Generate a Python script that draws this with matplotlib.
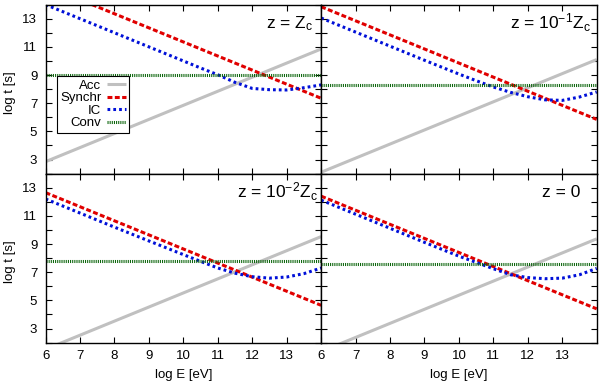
import numpy as np
import matplotlib
matplotlib.use('Agg')
import matplotlib.pyplot as plt

plt.rcParams['font.family'] = ['Liberation Sans', 'DejaVu Sans']
plt.rcParams['mathtext.fontset'] = 'custom'
plt.rcParams['mathtext.rm'] = 'Liberation Sans'
plt.rcParams['mathtext.default'] = 'regular'

# energy grid (log E [eV])
E = [6, 7, 8, 9, 10, 11, 12, 13, 14]
E_ic = [6, 7, 8, 9, 10, 10.5, 11, 11.5, 12, 12.5, 13, 13.5, 14]

# z = Zc
acc_a = [2.85, 3.85, 4.85, 5.85, 6.85, 7.85, 8.85, 9.85, 10.85]
syn_a = [15.35, 14.35, 13.35, 12.35, 11.35, 10.35, 9.35, 8.35, 7.35]
ic_a = [14.0, 13.0, 12.0, 11.0, 10.0, 9.5, 9.02, 8.48, 8.05, 7.96, 7.94, 8.1, 8.3]
conv_a = [9.02] * 9

# z = 10^-1 Zc
acc_b = [2.1, 3.1, 4.1, 5.1, 6.1, 7.1, 8.1, 9.1, 10.1]
syn_b = [13.85, 12.85, 11.85, 10.85, 9.85, 8.85, 7.85, 6.85, 5.85]
ic_b = [13.05, 12.05, 11.05, 10.05, 9.07, 8.6, 8.15, 7.77, 7.46, 7.24, 7.2, 7.44, 7.8]
conv_b = [8.27] * 9

# z = 10^-2 Zc
acc_c = [1.53, 2.53, 3.53, 4.53, 5.53, 6.53, 7.53, 8.53, 9.53]
syn_c = [12.65, 11.65, 10.65, 9.65, 8.65, 7.65, 6.65, 5.65, 4.65]
ic_c = [12.2, 11.2, 10.2, 9.22, 8.25, 7.77, 7.3, 6.93, 6.68, 6.58, 6.66, 6.9, 7.3]
conv_c = [7.77] * 9

# z = 0
acc_d = [1.37, 2.37, 3.37, 4.37, 5.37, 6.37, 7.37, 8.37, 9.37]
syn_d = [12.4, 11.4, 10.4, 9.4, 8.4, 7.4, 6.4, 5.4, 4.4]
ic_d = [12.12, 11.12, 10.12, 9.12, 8.14, 7.7, 7.25, 6.82, 6.62, 6.54, 6.58, 6.82, 7.27]
conv_d = [7.58] * 9

panels = [
    (acc_a, syn_a, ic_a, conv_a, r'z = Z$_{c}$', 0.80),
    (acc_b, syn_b, ic_b, conv_b, r'z = 10$^{-1}$Z$_{c}$', 0.685),
    (acc_c, syn_c, ic_c, conv_c, r'z = 10$^{-2}$Z$_{c}$', 0.695),
    (acc_d, syn_d, ic_d, conv_d, 'z = 0', 0.80),
]

fig, axes = plt.subplots(2, 2, figsize=(6, 3.85), dpi=100, sharex=True, sharey=True)
fig.subplots_adjust(left=0.076, right=0.9945, top=0.988, bottom=0.11, wspace=0, hspace=0)

lw = 2.2
for ax, (acc, syn, ic, conv, label, tx) in zip(axes.flat, panels):
    ax.plot(E, acc, color='#c0c0c0', lw=lw, solid_capstyle='butt', label='Acc')
    ax.plot(E, syn, color='#e00000', lw=lw, dashes=(1.6, 0.8), dash_capstyle='butt', label='Synchr')
    ax.plot(E_ic, ic, color='#0010d8', lw=lw, dashes=(0.9, 1.0), dash_capstyle='butt', label='IC')
    ax.plot(E, conv, color='#0b650b', lw=lw, dashes=(0.35, 0.35), dash_capstyle='butt', label='Conv')

    ax.text(tx, 0.86, label, transform=ax.transAxes, fontsize=12.5, ha='left', va='baseline')

    ax.set_xlim(6, 14)
    ax.set_ylim(2, 14)
    ax.set_xticks(range(6, 14))
    ax.set_yticks(range(3, 14, 2))
    ax.set_yticks(range(2, 15, 2), minor=True)
    ax.tick_params(which='both', direction='in', top=True, right=True,
                   length=4.5, width=0.8, labelsize=9.5)
    ax.tick_params(axis='y', pad=6)
    ax.tick_params(axis='x', pad=5)
    for s in ax.spines.values():
        s.set_linewidth(1.0)

leg = axes[0, 0].legend(loc='upper left', bbox_to_anchor=(0.041, 0.576), borderaxespad=0,
                        markerfirst=False, fontsize=9.5, handlelength=1.4, handletextpad=0.45,
                        borderpad=0.25, labelspacing=0.02, fancybox=False, framealpha=1)
leg.get_frame().set_edgecolor('black')
leg.get_frame().set_linewidth(0.8)

fig.text(0.016, 0.76, 'log t [s]', rotation=90, ha='center', va='center', fontsize=9.5)
fig.text(0.016, 0.32, 'log t [s]', rotation=90, ha='center', va='center', fontsize=9.5)
fig.text(0.306, 0.026, 'log E [eV]', ha='center', va='center', fontsize=9.5)
fig.text(0.765, 0.026, 'log E [eV]', ha='center', va='center', fontsize=9.5)

fig.savefig('out.png', dpi=100)
